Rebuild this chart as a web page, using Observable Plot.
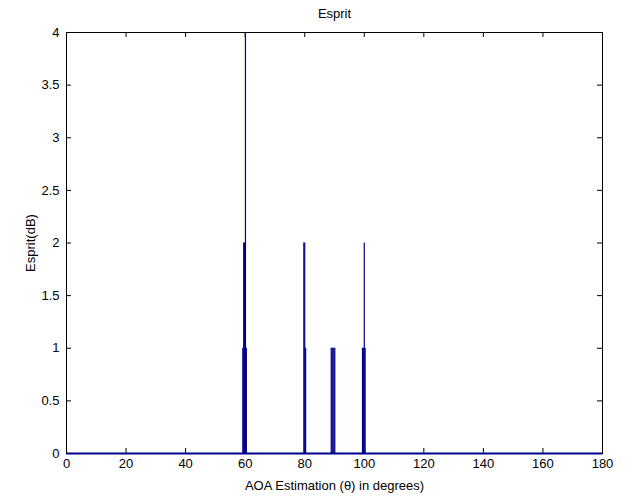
<!DOCTYPE html>
<html><head><meta charset="utf-8">
<script src="https://cdn.jsdelivr.net/npm/d3@7"></script>
<script src="https://cdn.jsdelivr.net/npm/@observablehq/plot@0.6"></script>
<style>body{margin:0;background:#fff;}</style>
</head><body><div id="chart"></div>
<script>
const title = "Esprit";
const xLabel = "AOA Estimation (θ) in degrees)";
const yLabel = "Esprit(dB)";
const xTicks = [0, 20, 40, 60, 80, 100, 120, 140, 160, 180];
const yTicks = [0, 0.5, 1, 1.5, 2, 2.5, 3, 3.5, 4];
const yTickLabels = ["0", "0.5", "1", "1.5", "2", "2.5", "3", "3.5", "4"];
const spikeAngles = [59.2, 59.5, 59.8, 60.1, 60.4, 79.7, 80.0, 80.3, 88.9, 89.2, 89.5, 89.8, 90.1, 99.4, 99.7, 100.0, 100.3];
const spikeValues = [1, 2, 2, 4, 1, 2, 2, 1, 1, 1, 1, 1, 1, 1, 1, 2, 1];
const spikes = spikeAngles.map((a, i) => ({angle: a, value: spikeValues[i]}));

const W = 632, H = 502, mL = 66, mR = 30, mT = 32, mB = 49;
const frameW = W - mL - mR, frameH = H - mT - mB;
const tk = 5;
const navy = "#00008b";
const fs = 13;
const chart = Plot.plot({
  width: W, height: H, marginLeft: mL, marginRight: mR, marginTop: mT, marginBottom: mB,
  style: {fontFamily: "'Liberation Sans', Arial, sans-serif", fontSize: fs + "px", background: "#fff", color: "#000"},
  x: {domain: [0, 180]},
  y: {domain: [0, 4]},
  marks: [
    Plot.frame({stroke: "#000"}),
    Plot.tickX(xTicks, {x: d => d, insetTop: frameH - tk, stroke: "#000"}),
    Plot.tickX(xTicks, {x: d => d, insetBottom: frameH - tk, stroke: "#000"}),
    Plot.tickY(yTicks, {y: d => d, insetRight: frameW - tk, stroke: "#000"}),
    Plot.tickY(yTicks, {y: d => d, insetLeft: frameW - tk, stroke: "#000"}),
    Plot.ruleX(spikes, {x: "angle", y1: 0, y2: "value", stroke: navy, strokeWidth: 1.2}),
    Plot.ruleY([0], {stroke: navy, strokeWidth: 2}),
    Plot.axisX(xTicks, {tickSize: 0, tickPadding: 5, label: null, fontSize: fs}),
    Plot.axisY(yTicks, {tickSize: 0, tickPadding: 7, tickFormat: d => yTickLabels[yTicks.indexOf(d)], label: null, fontSize: fs}),
    Plot.text([title], {frameAnchor: "top", dy: -24, fontSize: fs, textAnchor: "middle"}),
    Plot.text([xLabel], {frameAnchor: "bottom", dy: 36, fontSize: fs, textAnchor: "middle"}),
    Plot.text([yLabel], {frameAnchor: "left", dx: -36, rotate: -90, fontSize: fs, textAnchor: "middle"})
  ]
});
document.getElementById("chart").append(chart);
</script>
</body></html>
